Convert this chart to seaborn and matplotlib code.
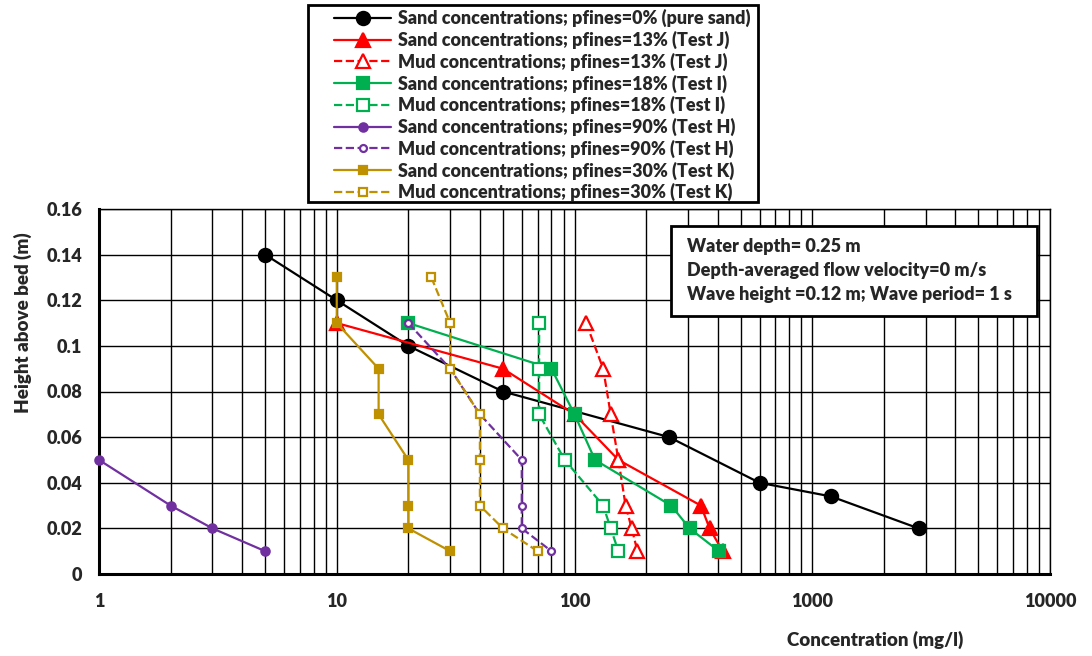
import numpy as np
import pandas as pd
import matplotlib
matplotlib.use('Agg')
from matplotlib import pyplot as plt
from matplotlib.patches import Rectangle
from matplotlib.ticker import FixedLocator, FuncFormatter, LogLocator, NullFormatter
import seaborn as sns

# heights above bed (m) and concentrations (mg/l)
h_pure = [0.14, 0.12, 0.10, 0.08, 0.06, 0.04, 0.034, 0.02]
c_pure = [5, 10, 20, 50, 250, 600, 1200, 2800]

h_j = [0.11, 0.09, 0.07, 0.05, 0.03, 0.02, 0.01]
sand_j = [10, 50, 100, 153, 340, 370, 420]
mud_j = [112, 132, 142, 153, 164, 174, 184]

h_i = [0.11, 0.09, 0.07, 0.05, 0.03, 0.02, 0.01]
sand_i = [20, 80, 100, 122, 255, 305, 405]
mud_i = [71, 71, 71, 91, 132, 142, 153]

h_h_sand = [0.05, 0.03, 0.02, 0.01]
sand_h = [1, 2, 3, 5]
h_h_mud = [0.11, 0.09, 0.07, 0.05, 0.03, 0.02, 0.01]
mud_h = [20, 30, 40, 60, 60, 60, 80]

h_k = [0.13, 0.11, 0.09, 0.07, 0.05, 0.03, 0.02, 0.01]
sand_k = [10, 10, 15, 15, 20, 20, 20, 30]
mud_k = [25, 30, 30, 40, 40, 40, 50, 70]

labels = [
    'Sand concentrations; pfines=0% (pure sand)',
    'Sand concentrations; pfines=13% (Test J)',
    'Mud concentrations; pfines=13% (Test J)',
    'Sand concentrations; pfines=18% (Test I)',
    'Mud concentrations; pfines=18% (Test I)',
    'Sand concentrations; pfines=90% (Test H)',
    'Mud concentrations; pfines=90% (Test H)',
    'Sand concentrations; pfines=30% (Test K)',
    'Mud concentrations; pfines=30% (Test K)',
]

info_lines = [
    'Water depth= 0.25 m',
    'Depth-averaged flow velocity=0 m/s',
    'Wave height =0.12 m; Wave period= 1 s',
]

black = '#000000'
red = '#FF0000'
green = '#00B050'
purple = '#7030A0'
gold = '#BF9000'

series = [
    (c_pure, h_pure, black, '-', 'o', 9.5, True),
    (sand_j, h_j, red, '-', '^', 10, True),
    (mud_j, h_j, red, '--', '^', 10, False),
    (sand_i, h_i, green, '-', 's', 9, True),
    (mud_i, h_i, green, '--', 's', 9, False),
    (sand_h, h_h_sand, purple, '-', 'o', 6, True),
    (mud_h, h_h_mud, purple, '--', 'o', 5, False),
    (sand_k, h_k, gold, '-', 's', 5.5, True),
    (mud_k, h_k, gold, '--', 's', 5.5, False),
]

sns.set_style('white')
plt.rcParams['font.family'] = ['Lato', 'DejaVu Sans']
plt.rcParams['font.weight'] = 'heavy'

W, H = 1092, 656
fig = plt.figure(figsize=(W / 100, H / 100), dpi=100)
ax = fig.add_axes([99 / W, 1 - 574 / H, 951 / W, 365 / H])

for (x, y, col, ls, mk, ms, filled), lab in zip(series, labels):
    df = pd.DataFrame({'conc': x, 'height': y})
    sns.lineplot(data=df, x='conc', y='height', ax=ax, sort=False, estimator=None,
                 color=col, linestyle=ls, linewidth=1.6, marker=mk, markersize=ms,
                 markerfacecolor=col if filled else 'white', markeredgecolor=col,
                 markeredgewidth=1.6, label=lab, zorder=3, clip_on=False)

ax.set_xscale('log')
ax.set_xlim(1, 10000)
ax.set_ylim(0, 0.16)
ax.xaxis.set_major_locator(LogLocator(base=10, numticks=10))
ax.xaxis.set_minor_locator(LogLocator(base=10, subs=np.arange(2, 10), numticks=20))
ax.xaxis.set_minor_formatter(NullFormatter())
ax.xaxis.set_major_formatter(FuncFormatter(lambda v, p: '%d' % v))
ax.yaxis.set_major_locator(FixedLocator(np.arange(0, 0.161, 0.02)))
ax.yaxis.set_major_formatter(FuncFormatter(lambda v, p: '%g' % round(v, 2)))

ax.grid(True, which='major', axis='both', color='black', linewidth=1.0)
ax.grid(True, which='minor', axis='x', color='black', linewidth=1.0)
ax.set_axisbelow(True)
ax.tick_params(axis='both', which='both', length=0, labelsize=13)
ax.tick_params(axis='x', pad=14)
ax.tick_params(axis='y', pad=12)
for side in ['top', 'right']:
    ax.spines[side].set_linewidth(1.0)
    ax.spines[side].set_color('black')
for side in ['left', 'bottom']:
    ax.spines[side].set_linewidth(2.2)
    ax.spines[side].set_color('black')

ax.set_xlabel('Concentration (mg/l)', fontsize=13.5, fontweight='heavy')
ax.set_ylabel('Height above bed (m)', fontsize=13.5, fontweight='heavy')
ax.xaxis.set_label_coords(0.816, -0.155)
ax.yaxis.set_label_coords(-0.0705, 0.688)

# info box
ax.add_patch(Rectangle((0.6015, 0.7068), 0.3848, 0.2466, transform=ax.transAxes,
                       facecolor='white', edgecolor='black', linewidth=2, zorder=5,
                       clip_on=False))
for i, line in enumerate(info_lines):
    ax.text(0.618, 0.896 - i * 0.0658, line, transform=ax.transAxes, ha='left',
            va='center', fontsize=13, fontweight='heavy', zorder=6)

leg = ax.legend(loc='upper left', bbox_to_anchor=(334 / W, 1 - 9 / H),
                bbox_transform=fig.transFigure, ncol=1, fontsize=12.9, frameon=False,
                handlelength=3.2, handletextpad=0.35, labelspacing=0.2,
                borderpad=0, borderaxespad=0)
for t in leg.get_texts():
    t.set_fontweight('heavy')
fig.add_artist(Rectangle((308 / W, 1 - 202 / H), 450 / W, 197 / H,
                         transform=fig.transFigure, facecolor='white',
                         edgecolor='black', linewidth=2, zorder=0))

fig.savefig('out.png', dpi=100)
